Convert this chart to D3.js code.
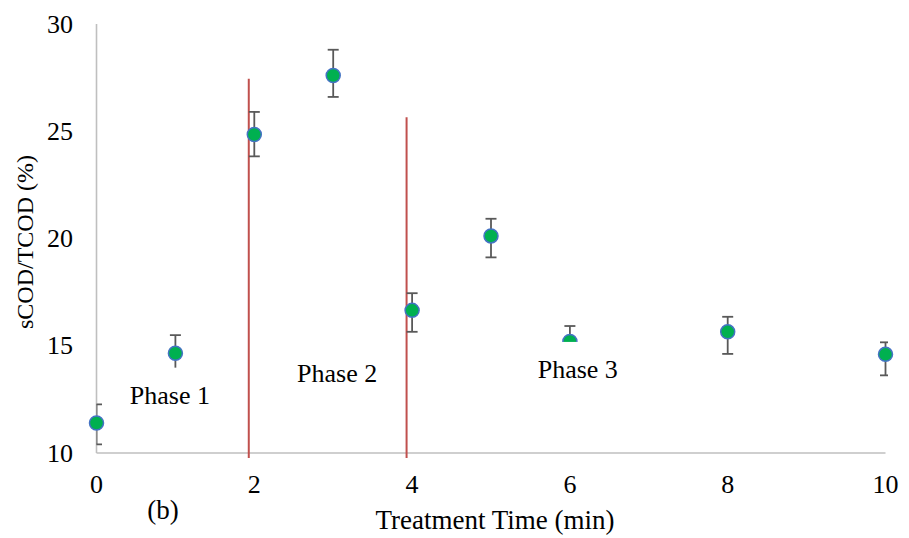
<!DOCTYPE html>
<html>
<head>
<meta charset="utf-8">
<script src="https://cdn.jsdelivr.net/npm/d3@7"></script>
<style>
  body { margin: 0; background: #fff; }
  svg text { font-family: "Liberation Serif", "Times New Roman", serif; fill: #000; }
</style>
</head>
<body>
<div id="chart"></div>
<script>
// sCOD/TCOD vs treatment time, panel (b)
const times = [0, 1, 2, 3, 4, 5, 6, 8, 10];
const ratio = [11.4, 14.65, 24.85, 27.6, 16.65, 20.12, 15.2, 15.65, 14.6];
const errUp = [0.87, 0.85, 1.05, 1.2, 0.8, 0.8, 0.72, 0.7, 0.56];
const errDown = [1.0, 0.85, 1.02, 1.0, 1.0, 1.0, 0.72, 1.03, 0.98];

const xTicks = [0, 2, 4, 6, 8, 10];
const yTicks = [10, 15, 20, 25, 30];

// phase boundaries (x in min, top of line in %)
const phaseLines = [
    { x: 1.93, top: 27.45 },
    { x: 3.93, top: 25.65 }
];
const phaseLabels = [
    { text: "Phase 1", x: 0.93, y: 12.3 },
    { text: "Phase 2", x: 3.05, y: 13.3 },
    { text: "Phase 3", x: 6.1, y: 13.5 }
];

const W = 909, H = 538;
const x = d3.scaleLinear().domain([0, 10]).range([96.5, 885.5]);
const y = d3.scaleLinear().domain([10, 30]).range([453, 24]);

const svg = d3.select("#chart").append("svg")
    .attr("width", W).attr("height", H);

svg.append("defs").append("clipPath").attr("id", "plot-clip")
    .append("rect").attr("x", x(0)).attr("y", 0)
    .attr("width", 888 - x(0)).attr("height", y(10));

// axes lines (no tick marks)
svg.append("line")
    .attr("x1", x(0)).attr("x2", x(0)).attr("y1", y(30)).attr("y2", y(10))
    .attr("stroke", "#bfbfbf").attr("stroke-width", 1.6);
svg.append("line")
    .attr("x1", x(0)).attr("x2", x(10)).attr("y1", y(10)).attr("y2", y(10))
    .attr("stroke", "#bfbfbf").attr("stroke-width", 1.6);

// tick labels
svg.selectAll(".xtick").data(xTicks).enter().append("text")
    .attr("class", "xtick")
    .attr("x", d => x(d)).attr("y", 493)
    .attr("text-anchor", "middle")
    .style("font-size", "26px")
    .text(d => d);

svg.selectAll(".ytick").data(yTicks).enter().append("text")
    .attr("class", "ytick")
    .attr("x", 73).attr("y", d => y(d) + 8.5)
    .attr("text-anchor", "end")
    .style("font-size", "26px")
    .text(d => d);

// red phase boundary lines
svg.selectAll(".phase-line").data(phaseLines).enter().append("line")
    .attr("class", "phase-line")
    .attr("x1", d => x(d.x)).attr("x2", d => x(d.x))
    .attr("y1", d => y(d.top)).attr("y2", y(10) + 5)
    .attr("stroke", "#c0504d").attr("stroke-width", 2);

const pts = times.map((t, i) => ({ t, v: ratio[i], up: errUp[i], dn: errDown[i] }));

// error bars
const eb = svg.append("g").attr("clip-path", "url(#plot-clip)")
    .selectAll("g").data(pts).enter().append("g")
    .attr("stroke", "#595959").attr("stroke-width", 1.8);
eb.append("line")
    .attr("x1", d => x(d.t)).attr("x2", d => x(d.t))
    .attr("y1", d => y(d.v + d.up)).attr("y2", d => y(d.v - d.dn));
eb.append("line")
    .attr("x1", d => x(d.t) - 5.5).attr("x2", d => x(d.t) + 5.5)
    .attr("y1", d => y(d.v + d.up)).attr("y2", d => y(d.v + d.up));
eb.append("line")
    .attr("x1", d => x(d.t) - 5.5).attr("x2", d => x(d.t) + 5.5)
    .attr("y1", d => y(d.v - d.dn)).attr("y2", d => y(d.v - d.dn));

// markers
svg.selectAll(".pt").data(pts).enter().append("circle")
    .attr("class", "pt")
    .attr("cx", d => x(d.t)).attr("cy", d => y(d.v))
    .attr("r", 7)
    .attr("fill", "#00b050")
    .attr("stroke", "#4472c4").attr("stroke-width", 1.5);

// phase labels sit in white text boxes that hide what is behind them
const pl = svg.selectAll(".phase").data(phaseLabels).enter().append("g");
pl.append("rect")
    .attr("x", d => x(d.x) - 50).attr("y", d => y(d.y) - 36)
    .attr("width", 100).attr("height", 48)
    .attr("fill", "#fff");
pl.append("text")
    .attr("x", d => x(d.x)).attr("y", d => y(d.y))
    .attr("text-anchor", "middle")
    .style("font-size", "26px")
    .text(d => d.text);

// axis titles
svg.append("text")
    .attr("transform", "translate(33,242) rotate(-90)")
    .attr("text-anchor", "middle")
    .style("font-size", "24px")
    .text("sCOD/TCOD (%)");

svg.append("text")
    .attr("x", 495).attr("y", 529)
    .attr("text-anchor", "middle")
    .style("font-size", "27px")
    .text("Treatment Time (min)");

svg.append("text")
    .attr("x", 163).attr("y", 519)
    .attr("text-anchor", "middle")
    .style("font-size", "27px")
    .text("(b)");
</script>
</body>
</html>
